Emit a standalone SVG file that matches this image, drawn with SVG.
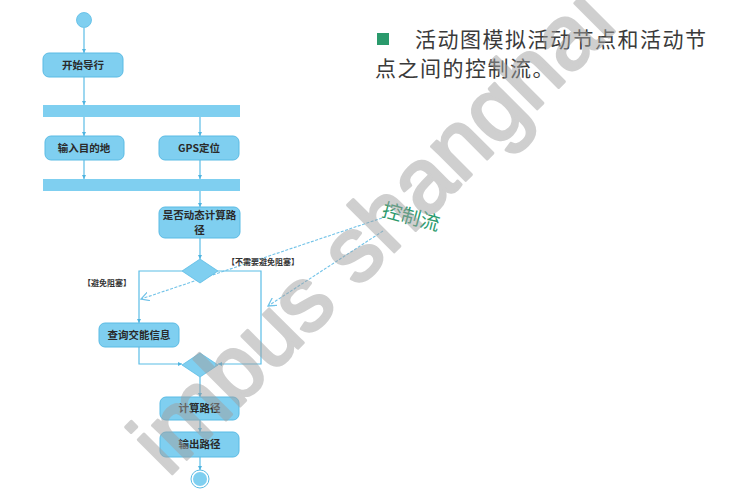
<svg xmlns="http://www.w3.org/2000/svg" width="746" height="495" viewBox="0 0 746 495">
<style>
.box{fill:#7fcff0;stroke:#5bbbe4;stroke-width:1}
.bar{fill:#7fcff0;stroke:none}
.lbl{font-family:"Noto Sans CJK SC","Liberation Sans",sans-serif;font-size:10.5px;fill:#2a2a2a;text-anchor:middle;font-weight:bold}
.grd{font-family:"Noto Sans CJK SC","Liberation Sans",sans-serif;font-size:8px;fill:#333;text-anchor:middle;font-weight:bold}
.flow{fill:none;stroke:#5bbde6;stroke-width:1.2}
.ctl{fill:none;stroke:#72c3e8;stroke-width:1.1;stroke-dasharray:3,1.5}
.main{font-family:"Noto Sans CJK SC","Liberation Sans",sans-serif;font-size:21px;fill:#3a3a3a;letter-spacing:1.5px}
</style>
<defs>
<marker id="ah" viewBox="0 0 10 10" refX="10" refY="5" markerWidth="4" markerHeight="4" orient="auto" markerUnits="userSpaceOnUse">
<path d="M0,0 L10,5 L0,10 z" fill="#4fb4e0"/>
</marker>
<marker id="oh" viewBox="0 0 10 10" refX="9" refY="5" markerWidth="9" markerHeight="9" orient="auto" markerUnits="userSpaceOnUse">
<path d="M0,0 L9,5 L0,10" fill="none" stroke="#72c3e8" stroke-width="1.4"/>
</marker>
</defs>
<rect width="746" height="495" fill="#ffffff"/>

<g id="connectors">
<line class="flow" x1="84" y1="28" x2="84" y2="53" marker-end="url(#ah)"/>
<line class="flow" x1="84" y1="77" x2="84" y2="105" marker-end="url(#ah)"/>
<line class="flow" x1="84" y1="117" x2="84" y2="136" marker-end="url(#ah)"/>
<line class="flow" x1="200" y1="117" x2="200" y2="136" marker-end="url(#ah)"/>
<line class="flow" x1="84" y1="160" x2="84" y2="179" marker-end="url(#ah)"/>
<line class="flow" x1="200" y1="160" x2="200" y2="179" marker-end="url(#ah)"/>
<line class="flow" x1="200" y1="191" x2="200" y2="207" marker-end="url(#ah)"/>
<line class="flow" x1="200" y1="238" x2="200" y2="259" marker-end="url(#ah)"/>
<polyline class="flow" points="182,271 139,271 139,323" marker-end="url(#ah)"/>
<polyline class="flow" points="218,271 261,271 261,364 218,364" marker-end="url(#ah)"/>
<polyline class="flow" points="139,347 139,364 182,364" marker-end="url(#ah)"/>
<line class="flow" x1="200" y1="377" x2="200" y2="397" marker-end="url(#ah)"/>
<line class="flow" x1="200" y1="420" x2="200" y2="432" marker-end="url(#ah)"/>
<line class="flow" x1="200" y1="457" x2="200" y2="470" marker-end="url(#ah)"/>
<line class="ctl" x1="382" y1="218" x2="141" y2="299" marker-end="url(#oh)"/>
<line class="ctl" x1="383" y1="231" x2="268" y2="306" marker-end="url(#oh)"/>
</g>

<g id="start"><circle cx="84" cy="20" r="7.5" fill="#7fcff0" stroke="#5bbbe4" stroke-width="0.8"/></g>
<g id="n-start"><rect class="box" x="43" y="53" width="80" height="24" rx="6"/><text class="lbl" x="83" y="69">开始导行</text></g>
<g id="fork"><rect class="bar" x="43" y="105" width="197" height="12"/></g>
<g id="n-dest"><rect class="box" x="45" y="136" width="79" height="24" rx="6"/><text class="lbl" x="84" y="152">输入目的地</text></g>
<g id="n-gps"><rect class="box" x="159" y="136" width="80" height="24" rx="6"/><text class="lbl" x="199" y="152">GPS定位</text></g>
<g id="join"><rect class="bar" x="43" y="179" width="197" height="12"/></g>
<g id="n-dyn"><rect class="box" x="159" y="207" width="81" height="31" rx="6"/><text class="lbl" x="199.5" y="219">是否动态计算路</text><text class="lbl" x="199.5" y="234">径</text></g>
<g id="dec1"><polygon points="200,259 218,271 200,283 182,271" fill="#7fcff0" stroke="#5bbbe4" stroke-width="0.8"/></g>
<g id="n-traffic"><rect class="box" x="99" y="323" width="80" height="24" rx="6"/><text class="lbl" x="139" y="339">查询交能信息</text></g>
<g id="merge"><polygon points="200,353 218,365 200,377 182,365" fill="#7fcff0" stroke="#5bbbe4" stroke-width="0.8"/></g>
<g id="n-calc"><rect class="box" x="160" y="397" width="79" height="23" rx="6"/><text class="lbl" x="199.5" y="412">计算路径</text></g>
<g id="n-out"><rect class="box" x="160" y="432" width="79" height="25" rx="6"/><text class="lbl" x="199.5" y="448">输出路径</text></g>
<g id="end"><circle cx="200" cy="479" r="9" fill="#fff" stroke="#5bbbe4" stroke-width="1"/><circle cx="200" cy="479" r="7" fill="#7fcff0"/></g>

<g id="guards">
<text class="grd" x="107" y="286">【避免阻塞】</text>
<text class="grd" x="263" y="265">【不需要避免阻塞】</text>
</g>

<g id="note">
<rect x="377" y="33" width="12" height="12" fill="#2a9a6c"/>
<text class="main" x="415" y="47">活动图模拟活动节点和活动节</text>
<text class="main" x="375" y="76">点之间的控制流。</text>
<text x="381" y="216" transform="rotate(15 381 216)" font-family="Noto Sans CJK SC, sans-serif" font-size="19.5" fill="#2a9a6c">控制流</text>
</g>

<g id="watermark" opacity="0.5">
<text x="168" y="478" transform="rotate(-45 168 478)" font-family="Liberation Sans, Arial, sans-serif" font-size="91" fill="#a0a0a0" stroke="#a0a0a0" stroke-width="3" stroke-linejoin="round">imbus shanghai</text>
</g>
</svg>
